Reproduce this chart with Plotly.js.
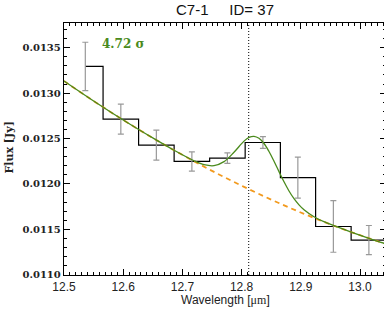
<!DOCTYPE html>
<html><head><meta charset="utf-8">
<script src="https://cdn.plot.ly/plotly-3.0.1.min.js"></script>
<style>html,body{margin:0;padding:0;overflow:hidden;background:#fff}</style>
</head><body><div id="chart"></div>
<script>
// binned spectrum (last bin lies just beyond the visible range)
const wavelength = [12.536, 12.596, 12.656, 12.716, 12.776, 12.836, 12.895, 12.955, 13.015, 13.075];
const flux       = [0.013294, 0.012713, 0.012427, 0.012247, 0.012284, 0.012456, 0.012069, 0.011531, 0.011381, 0.01131];
const fluxErr    = [0.000266, 0.000165, 0.000165, 0.000106, 0.000058, 0.000064, 0.000226, 0.000284, 0.000161, 0.00016];

// continuum (orange dashed)
const contX = [12.5, 12.5507, 12.6014, 12.652, 12.7027, 12.7534, 12.8041, 12.8547, 12.9054, 12.9561, 13.0068, 13.0439];
const contY = [0.013133, 0.012910, 0.012698, 0.012498, 0.012310, 0.012132, 0.011967, 0.011813, 0.011670, 0.011539, 0.011420, 0.011339];

// continuum + line model (green)
const modelX = [12.5, 12.55068, 12.60135, 12.65203, 12.68581, 12.7196, 12.73649, 12.75338, 12.77027, 12.78716, 12.80405, 12.8125, 12.82095, 12.82939, 12.83784, 12.84628, 12.85473, 12.86318, 12.87162, 12.88007, 12.88851, 12.89696, 12.90541, 12.9223, 12.93919, 12.95608, 12.98986, 13.02365, 13.04392];
const modelY = [0.013133, 0.012910, 0.012698, 0.012498, 0.012371, 0.012255, 0.012212, 0.012201, 0.012245, 0.012349, 0.012471, 0.012512, 0.012524, 0.012502, 0.012445, 0.012357, 0.012250, 0.012135, 0.012023, 0.011922, 0.011837, 0.011769, 0.011715, 0.011638, 0.011584, 0.011540, 0.011458, 0.011382, 0.011339];

const lineCenter = 12.812;
const significanceLabel = '4.72 σ';
const titleText = 'C7-1\u00a0\u00a0\u00a0\u00a0\u00a0ID= 37';

const xTickVals = [12.5, 12.6, 12.7, 12.8, 12.9, 13.0];
const xTickText = ['12.5', '12.6', '12.7', '12.8', '12.9', '13.0'];
const yTickVals = [0.0110, 0.0115, 0.0120, 0.0125, 0.0130, 0.0135];
const yTickText = ['0.0110', '0.0115', '0.0120', '0.0125', '0.0130', '0.0135'];

const green = '#4a8a1c';
const orange = '#f29a1e';

const traces = [
  {x: wavelength, y: flux, mode: 'lines', line: {shape: 'hvh', color: '#000', width: 1.2}, hoverinfo: 'skip'},
  {x: wavelength, y: flux, mode: 'markers', marker: {size: 1, color: 'rgba(0,0,0,0)'},
   error_y: {type: 'data', array: fluxErr, visible: true, color: '#999999', thickness: 1.2, width: 3}},
  {x: contX, y: contY, mode: 'lines', line: {shape: 'spline', color: orange, width: 1.8, dash: '5px,4px'}},
  {x: modelX, y: modelY, mode: 'lines', line: {shape: 'spline', color: green, width: 1.3}}
];

const axisCommon = {
  showline: true, linecolor: '#000', linewidth: 1.2, mirror: 'allticks',
  ticks: 'inside', ticklen: 6, tickwidth: 1, tickcolor: '#000',
  showgrid: false, zeroline: false, tickmode: 'array'
};

const layout = {
  width: 386, height: 318,
  margin: {l: 64, r: 0, t: 23, b: 43, pad: 0},
  paper_bgcolor: '#fff', plot_bgcolor: '#fff',
  showlegend: false,
  title: {text: titleText, font: {family: 'Liberation Sans, Arial, sans-serif', size: 15, color: '#111'},
          x: 0.5, xref: 'paper', y: 1 - 10 / 318, yref: 'container', yanchor: 'middle'},
  xaxis: Object.assign({}, axisCommon, {
    range: [12.5, 13.0439], tickvals: xTickVals, ticktext: xTickText,
    tickfont: {family: 'Liberation Sans, Arial, sans-serif', size: 12, color: '#222'},
    minor: {dtick: 0.01, tick0: 12.5, ticks: 'inside', ticklen: 3, tickcolor: '#000', tickwidth: 1, showgrid: false}
  }),
  yaxis: Object.assign({}, axisCommon, {
    range: [0.0109967, 0.013772], tickvals: yTickVals, ticktext: yTickText,
    tickfont: {family: 'DejaVu Serif, serif', size: 10, weight: 'bold', color: '#222'},
    minor: {dtick: 0.0001, tick0: 0.011, ticks: 'inside', ticklen: 3, tickcolor: '#000', tickwidth: 1, showgrid: false}
  }),
  shapes: [{type: 'line', xref: 'x', yref: 'paper', x0: lineCenter, x1: lineCenter, y0: 0, y1: 1,
            line: {color: '#000', width: 1, dash: '1px,2px'}, layer: 'below'}],
  annotations: [
    {text: significanceLabel, xref: 'paper', yref: 'paper', x: (100 - 64) / 322, y: (275 - 44) / 252,
     xanchor: 'left', yanchor: 'middle', showarrow: false,
     font: {family: 'DejaVu Serif, serif', size: 12, weight: 'bold', color: green}},
    {text: 'Wavelength [<span style="font-family:\'Liberation Serif\', serif">μm</span>]', xref: 'paper', yref: 'paper',
     x: (225 - 64) / 322, y: (275 - 300) / 252,
     xanchor: 'center', yanchor: 'middle', showarrow: false,
     font: {family: 'Liberation Sans, Arial, sans-serif', size: 12, color: '#222'}},
    {text: 'Flux [Jy]', xref: 'paper', yref: 'paper', x: (8.5 - 64) / 322, y: (275 - 148) / 252,
     xanchor: 'center', yanchor: 'middle', textangle: -90, showarrow: false,
     font: {family: 'DejaVu Serif, serif', size: 11, weight: 'bold', color: '#222'}}
  ]
};

Plotly.newPlot('chart', traces, layout, {displayModeBar: false, staticPlot: true});
</script>
</body></html>
